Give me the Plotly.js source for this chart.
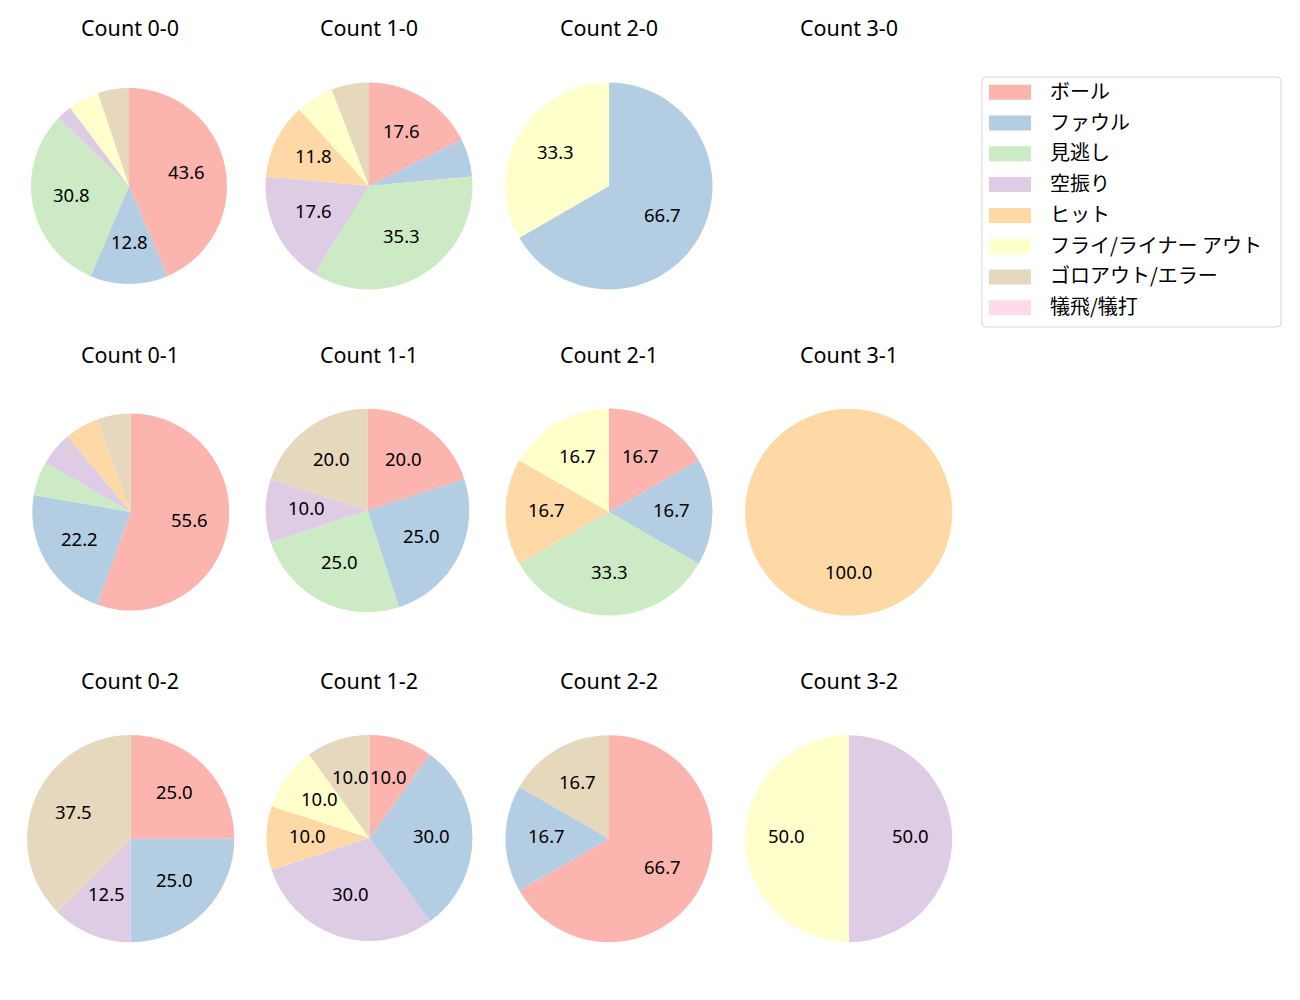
<!DOCTYPE html>
<html>
<head>
<meta charset="utf-8">
<script src="https://cdn.plot.ly/plotly-3.0.1.min.js"></script>
<style>html,body{margin:0;padding:0;background:#fff;}</style>
</head>
<body>
<div id="chart" style="width:1300px;height:1000px;"></div>
<script>
// ---- data ----
const categories = ["ボール", "ファウル", "見逃し", "空振り", "ヒット", "フライ/ライナー アウト", "ゴロアウト/エラー", "犠飛/犠打"];
const panelTitles = ["Count 0-0", "Count 1-0", "Count 2-0", "Count 3-0",
                     "Count 0-1", "Count 1-1", "Count 2-1", "Count 3-1",
                     "Count 0-2", "Count 1-2", "Count 2-2", "Count 3-2"];
const count_0_0 = [17, 5, 12, 1, 0, 2, 2, 0];
const count_1_0 = [3, 1, 6, 3, 2, 1, 1, 0];
const count_2_0 = [0, 2, 0, 0, 0, 1, 0, 0];
const count_3_0 = [0, 0, 0, 0, 0, 0, 0, 0];
const count_0_1 = [10, 4, 1, 1, 1, 0, 1, 0];
const count_1_1 = [4, 5, 5, 2, 0, 0, 4, 0];
const count_2_1 = [1, 1, 2, 0, 1, 1, 0, 0];
const count_3_1 = [0, 0, 0, 0, 1, 0, 0, 0];
const count_0_2 = [2, 2, 0, 1, 0, 0, 3, 0];
const count_1_2 = [1, 3, 0, 3, 1, 1, 1, 0];
const count_2_2 = [4, 1, 0, 0, 0, 0, 1, 0];
const count_3_2 = [0, 0, 0, 1, 0, 1, 0, 0];
const panelValues = [count_0_0, count_1_0, count_2_0, count_3_0,
                     count_0_1, count_1_1, count_2_1, count_3_1,
                     count_0_2, count_1_2, count_2_2, count_3_2];

// ---- styles / layout geometry (pixels) ----
const colors = ['#fbb4ae', '#b3cde3', '#ccebc5', '#decbe4', '#fed9a6', '#ffffcc', '#e5d8bd', '#fddaec'];
const W = 1300, H = 1000;
const LATIN = '"Noto Sans", "Noto Sans CJK JP", sans-serif';
const CJK = '"Noto Sans CJK JP", "Noto Sans", sans-serif';
const colX = [129.5, 369, 609, 849];
const titleY = [29, 356, 682];
const pieGeom = [
  {cx: 129, cy: 186, r: 98}, {cx: 369, cy: 186, r: 103.5}, {cx: 609, cy: 186, r: 103.5}, {cx: 849, cy: 186, r: 103.5},
  {cx: 130.8, cy: 512, r: 98.5}, {cx: 367.5, cy: 510.5, r: 101.8}, {cx: 609, cy: 512, r: 103.5}, {cx: 848.7, cy: 512.3, r: 103.5},
  {cx: 130.7, cy: 838.7, r: 103.6}, {cx: 369.5, cy: 838, r: 103}, {cx: 609, cy: 838.7, r: 103.5}, {cx: 848.7, cy: 838.7, r: 103.5}
];

const traces = [];
const annotations = [];
const shapes = [];

panelValues.forEach((vals, i) => {
  const g = pieGeom[i];
  const col = i % 4, row = Math.floor(i / 4);
  annotations.push({
    text: panelTitles[i], x: colX[col] / W, y: 1 - titleY[row] / H,
    xref: 'paper', yref: 'paper', xanchor: 'center', yanchor: 'middle', yshift: 2,
    showarrow: false, font: {family: LATIN, size: 21.5, color: '#000'}
  });
  const total = vals.reduce((a, b) => a + b, 0);
  if (total === 0) return;
  traces.push({
    type: 'pie', values: vals, labels: categories, sort: false,
    direction: 'clockwise', rotation: 0,
    marker: {colors: colors, line: {width: 0}},
    textinfo: 'none', hoverinfo: 'none', showlegend: false,
    domain: {x: [(g.cx - g.r) / W, (g.cx + g.r) / W], y: [1 - (g.cy + g.r) / H, 1 - (g.cy - g.r) / H]}
  });
  let cum = 0;
  vals.forEach((v) => {
    const pct = 100 * v / total;
    const mid = (cum + v / 2) / total;
    cum += v;
    if (v === 0 || pct < 9.95) return;
    const th = 2 * Math.PI * mid;
    const px = g.cx + 0.6 * g.r * Math.sin(th);
    const py = g.cy - 0.6 * g.r * Math.cos(th);
    annotations.push({
      text: pct.toFixed(1), x: px / W, y: 1 - py / H,
      xref: 'paper', yref: 'paper', xanchor: 'center', yanchor: 'middle', yshift: 3,
      showarrow: false, font: {family: LATIN, size: 18.5, color: '#000'}
    });
  });
});

// ---- legend (manual, matplotlib style) ----
const lg = {x0: 982, y0: 77, x1: 1281, y1: 327, patchX0: 989, patchX1: 1031, firstY: 92.3, step: 30.77, patchH: 15, textX: 1048};
shapes.push({type: 'path', xref: 'paper', yref: 'paper',
  path: (function () {
    const r = 4, x0 = lg.x0, x1 = lg.x1, y0 = lg.y0, y1 = lg.y1;
    const P = (x, y) => (x / W) + ',' + (1 - y / H);
    return 'M' + P(x0 + r, y0) + ' L' + P(x1 - r, y0) + ' Q' + P(x1, y0) + ' ' + P(x1, y0 + r) +
      ' L' + P(x1, y1 - r) + ' Q' + P(x1, y1) + ' ' + P(x1 - r, y1) +
      ' L' + P(x0 + r, y1) + ' Q' + P(x0, y1) + ' ' + P(x0, y1 - r) +
      ' L' + P(x0, y0 + r) + ' Q' + P(x0, y0) + ' ' + P(x0 + r, y0) + ' Z';
  })(),
  line: {color: '#d6d6d6', width: 1}, fillcolor: 'rgba(255,255,255,0.8)'});
categories.forEach((c, k) => {
  const yc = lg.firstY + k * lg.step;
  shapes.push({type: 'rect', xref: 'paper', yref: 'paper',
    x0: lg.patchX0 / W, x1: lg.patchX1 / W, y0: 1 - (yc + lg.patchH / 2) / H, y1: 1 - (yc - lg.patchH / 2) / H,
    line: {width: 0}, fillcolor: colors[k]});
  annotations.push({text: c, x: lg.textX / W, y: 1 - yc / H, xref: 'paper', yref: 'paper',
    xanchor: 'left', yanchor: 'middle', yshift: 2, showarrow: false, font: {family: CJK, size: 20, color: '#000'}});
});

const layout = {
  width: W, height: H, margin: {l: 0, r: 0, t: 0, b: 0},
  paper_bgcolor: '#fff', plot_bgcolor: '#fff',
  showlegend: false, annotations: annotations, shapes: shapes,
  font: {family: LATIN}
};
Plotly.newPlot('chart', traces, layout, {displayModeBar: false, staticPlot: true});
</script>
</body>
</html>
